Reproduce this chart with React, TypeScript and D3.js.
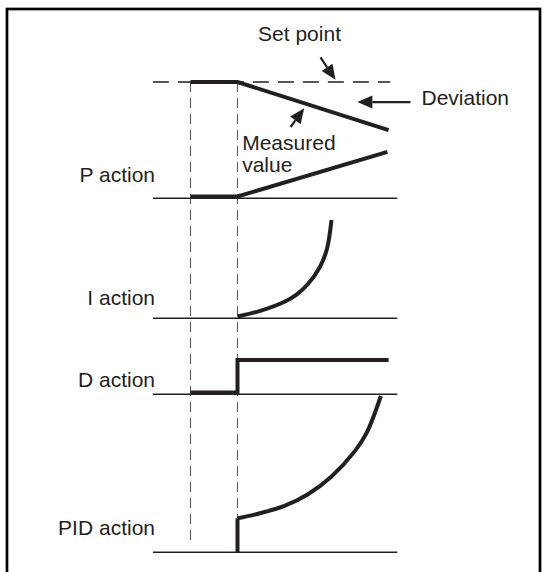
import * as d3 from "d3";
import { useEffect, useRef } from "react";

// time axis: t=0 first dashed marker, t=2 the step change
const axisStart = -1.6;
const axisEnd = 8.8;
const markerTimes = [0, 2];

// top panel: set point / measured value / P action
const setPointSpan = [-1.6, 8.5];
const measuredT = [0, 2, 8.43];
const measuredV = [1, 1, 0.58];
const pT = [0, 2, 8.38];
const pV = [0, 0, 0.39];

// I action
const iT = [2, 3, 4, 4.5, 5, 5.5, 5.8, 6.0];
const iV = [0, 0.06, 0.15, 0.22, 0.33, 0.5, 0.68, 0.98];

// D action
const dT = [0, 2, 2, 8.43];
const dV = [0, 0, 1, 1];

// PID action
const pidT = [2, 2, 3, 4, 5, 6, 7, 7.5, 8.1];
const pidV = [-0.01, 0.208, 0.243, 0.289, 0.364, 0.479, 0.645, 0.763, 1.0];

const panelLabels = ["P action", "I action", "D action", "PID action"];

const INK = "#231f20";

const App = () => {
  const ref = useRef<HTMLDivElement>(null);

  useEffect(() => {
    const root = d3.select(ref.current);
    root.selectAll("*").remove();

    const svg = root
      .append("svg")
      .attr("width", 547)
      .attr("height", 572)
      .style("position", "absolute")
      .style("left", "0px")
      .style("top", "0px")
      .style("background", "#fff")
      .attr("font-family", "'Liberation Sans', Arial, Helvetica, sans-serif")
      .attr("font-size", 21)
      .attr("fill", INK);

    const x = d3.scaleLinear().domain([0, 2]).range([190.5, 237.5]);

    const yTop = d3.scaleLinear().domain([0, 1]).range([196.5, 82]);
    const yI = d3.scaleLinear().domain([0, 1]).range([316.5, 218]);
    const yD = d3.scaleLinear().domain([0, 1]).range([392.5, 360]);
    const yPid = d3.scaleLinear().domain([0, 1]).range([550.5, 396]);

    const panels = [
      { y: yTop, labelOffset: 16 },
      { y: yI, labelOffset: 13 },
      { y: yD, labelOffset: 7 },
      { y: yPid, labelOffset: 17 },
    ];

    // frame
    svg.append("rect")
      .attr("x", 7).attr("y", 9)
      .attr("width", 533).attr("height", 620)
      .attr("fill", "none")
      .attr("stroke", "#000")
      .attr("stroke-width", 2.7);

    // vertical dashed time markers
    svg.append("g")
      .selectAll("line")
      .data(markerTimes)
      .enter().append("line")
      .attr("x1", d => x(d)).attr("x2", d => x(d))
      .attr("y1", yTop(1)).attr("y2", (d, i) => (i === 0 ? 546 : yPid(0)))
      .attr("stroke", "#555")
      .attr("stroke-width", 1)
      .attr("stroke-dasharray", "10,6");

    // baselines + labels
    panels.forEach((p, i) => {
      const base = p.y(0) + 1.8;
      svg.append("line")
        .attr("x1", x(axisStart)).attr("x2", x(axisEnd))
        .attr("y1", base).attr("y2", base)
        .attr("stroke", INK)
        .attr("stroke-width", 1.6);
      svg.append("text")
        .attr("x", 155)
        .attr("y", base - p.labelOffset)
        .attr("text-anchor", "end")
        .text(panelLabels[i]);
    });

    // set point dashed line
    svg.append("line")
      .attr("x1", x(setPointSpan[0])).attr("x2", x(setPointSpan[1]))
      .attr("y1", yTop(1)).attr("y2", yTop(1))
      .attr("stroke", INK)
      .attr("stroke-width", 1.4)
      .attr("stroke-dasharray", "16,9");

    const thick = (ts: number[], vs: number[], y: d3.ScaleLinear<number, number>, curve: d3.CurveFactory) => {
      const line = d3.line<number>()
        .x((d, i) => x(ts[i]))
        .y(d => y(d))
        .curve(curve);
      svg.append("path")
        .attr("d", line(vs))
        .attr("fill", "none")
        .attr("stroke", INK)
        .attr("stroke-width", 4)
        .attr("stroke-linejoin", "miter");
    };

    thick(measuredT, measuredV, yTop, d3.curveLinear);
    thick(pT, pV, yTop, d3.curveLinear);
    thick(iT, iV, yI, d3.curveCatmullRom.alpha(0.5));
    thick(dT, dV, yD, d3.curveLinear);
    // PID: vertical step then smooth rise
    thick(pidT.slice(0, 2), pidV.slice(0, 2), yPid, d3.curveLinear);
    thick(pidT.slice(1), pidV.slice(1), yPid, d3.curveCatmullRom.alpha(0.5));

    // annotation arrows
    const arrow = (x1: number, y1: number, x2: number, y2: number) => {
      const ang = Math.atan2(y2 - y1, x2 - x1);
      const len = 15, hw = 6.5;
      const bx = x2 - len * Math.cos(ang), by = y2 - len * Math.sin(ang);
      svg.append("line")
        .attr("x1", x1).attr("y1", y1)
        .attr("x2", bx).attr("y2", by)
        .attr("stroke", INK)
        .attr("stroke-width", 2.2);
      const px = -Math.sin(ang) * hw, py = Math.cos(ang) * hw;
      svg.append("path")
        .attr("d", `M${x2},${y2}L${bx + px},${by + py}L${bx - px},${by - py}Z`)
        .attr("fill", INK);
    };

    arrow(x(5.53), yTop(1.215), x(6.17), yTop(1.02));
    arrow(x(4.26), yTop(0.607), x(4.84), yTop(0.77));
    arrow(x(9.36), yTop(0.825), x(7.1), yTop(0.825));

    svg.append("text")
      .attr("x", x(4.64)).attr("y", yTop(1.36))
      .attr("text-anchor", "middle")
      .text("Set point");
    svg.append("text")
      .attr("x", x(9.83)).attr("y", yTop(0.8))
      .text("Deviation");
    svg.append("text")
      .attr("x", x(2.2)).attr("y", yTop(0.408))
      .text("Measured");
    svg.append("text")
      .attr("x", x(2.2)).attr("y", yTop(0.216))
      .text("value");
  }, []);

  return <div ref={ref}></div>;
};

export default App;
